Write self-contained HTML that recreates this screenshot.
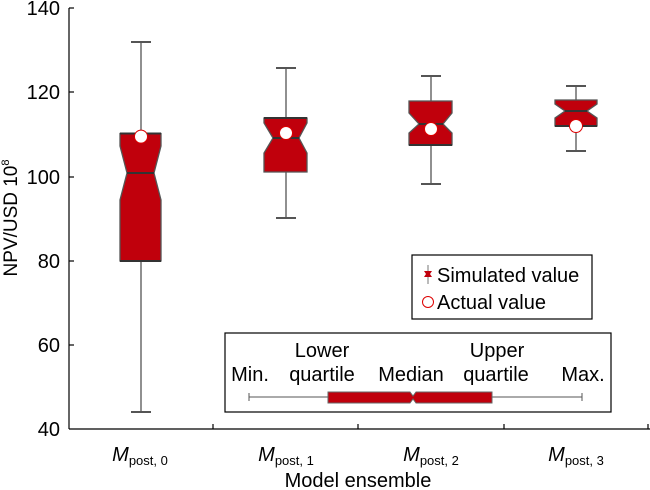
<!DOCTYPE html>
<html><head><meta charset="utf-8"><style>
body{margin:0;background:#fff}
svg{display:block;font-family:"Liberation Sans",Arial,sans-serif}
</style></head><body>
<svg width="650" height="490" viewBox="0 0 650 490">
<g stroke="#000" stroke-width="1.2" fill="none">
<line x1="69" y1="8" x2="69" y2="429"/>
<line x1="69" y1="429" x2="650" y2="429"/>
<line x1="69" y1="8" x2="74" y2="8"/>
<line x1="69" y1="92" x2="74" y2="92"/>
<line x1="69" y1="177" x2="74" y2="177"/>
<line x1="69" y1="261" x2="74" y2="261"/>
<line x1="69" y1="345" x2="74" y2="345"/>
<line x1="213" y1="424" x2="213" y2="429"/>
<line x1="358" y1="424" x2="358" y2="429"/>
<line x1="504" y1="424" x2="504" y2="429"/>
<line x1="648" y1="424" x2="648" y2="429"/>
</g>
<g font-size="20" text-anchor="end" fill="#000">
<text x="60" y="15">140</text>
<text x="60" y="99">120</text>
<text x="60" y="184">100</text>
<text x="60" y="268">80</text>
<text x="60" y="352">60</text>
<text x="60" y="436">40</text>
</g>
<text transform="translate(17,218) rotate(-90)" font-size="19" text-anchor="middle">NPV/USD 10<tspan font-size="11" dy="-8">8</tspan></text>
<g font-size="20" text-anchor="middle">
<text x="140" y="461"><tspan font-style="italic">M</tspan><tspan font-size="13" dy="4">post, 0</tspan></text>
<text x="286" y="461"><tspan font-style="italic">M</tspan><tspan font-size="13" dy="4">post, 1</tspan></text>
<text x="431" y="461"><tspan font-style="italic">M</tspan><tspan font-size="13" dy="4">post, 2</tspan></text>
<text x="576" y="461"><tspan font-style="italic">M</tspan><tspan font-size="13" dy="4">post, 3</tspan></text>
<text x="358" y="487">Model ensemble</text>
</g>
<g stroke="#555" stroke-width="1.3">
<line x1="141" y1="42" x2="141" y2="412"/>
<line x1="131" y1="42" x2="151" y2="42" stroke-width="2"/>
<line x1="131" y1="412" x2="151" y2="412" stroke-width="2"/>
<polygon points="120,133.5 161,133.5 161,146 154,173 161,200 161,261 120,261 120,200 127,173 120,146" fill="#c0000c"/>
<line x1="127" y1="173" x2="154" y2="173" stroke="#333" stroke-width="2"/>
<line x1="120" y1="133.5" x2="161" y2="133.5" stroke="#333" stroke-width="2"/>
<line x1="120" y1="261" x2="161" y2="261" stroke="#333" stroke-width="2"/>
<line x1="286" y1="68" x2="286" y2="218"/>
<line x1="276" y1="68" x2="296" y2="68" stroke-width="2"/>
<line x1="276" y1="218" x2="296" y2="218" stroke-width="2"/>
<polygon points="264,118 307,118 307,123 299,138 307,153 307,172 264,172 264,153 273,138 264,123" fill="#c0000c"/>
<line x1="273" y1="138" x2="299" y2="138" stroke="#333" stroke-width="2"/>
<line x1="264" y1="118" x2="307" y2="118" stroke="#333" stroke-width="2"/>
<line x1="431" y1="76" x2="431" y2="184"/>
<line x1="421" y1="76" x2="441" y2="76" stroke-width="2"/>
<line x1="421" y1="184" x2="441" y2="184" stroke-width="2"/>
<polygon points="409,101 452,101 452,113 443,124 452,133 452,145 409,145 409,133 419,124 409,113" fill="#c0000c"/>
<line x1="419" y1="124" x2="443" y2="124" stroke="#333" stroke-width="2"/>
<line x1="409" y1="145" x2="452" y2="145" stroke="#333" stroke-width="2"/>
<line x1="576" y1="86" x2="576" y2="151"/>
<line x1="566" y1="86" x2="586" y2="86" stroke-width="2"/>
<line x1="566" y1="151" x2="586" y2="151" stroke-width="2"/>
<polygon points="555,100 597,100 597,104 587,111 597,118 597,126 555,126 555,118 565,111 555,104" fill="#c0000c"/>
<line x1="565" y1="111" x2="587" y2="111" stroke="#333" stroke-width="2"/>
<line x1="555" y1="126" x2="597" y2="126" stroke="#333" stroke-width="2"/>
</g>
<g fill="#fff" stroke="#d00" stroke-width="1">
<circle cx="141" cy="136.6" r="6.5"/>
<circle cx="286" cy="133" r="6.5"/>
<circle cx="431" cy="129" r="6.5"/>
<circle cx="576" cy="126" r="6.5"/>
</g>
<rect x="412" y="255" width="180" height="64" fill="#fff" stroke="#000" stroke-width="1.2"/>
<line x1="428" y1="265" x2="428" y2="284" stroke="#777"/>
<polygon points="424,271 432,271 430,274 432,277 424,277 426,274" fill="#c0000c"/>
<text x="437" y="282" font-size="20">Simulated value</text>
<circle cx="428" cy="302" r="5.5" fill="#fff" stroke="#d00"/>
<text x="437" y="309" font-size="20">Actual value</text>
<rect x="225" y="333" width="386" height="79" fill="#fff" stroke="#000" stroke-width="1.2"/>
<g font-size="20" text-anchor="middle">
<text x="322" y="357">Lower</text>
<text x="322" y="381">quartile</text>
<text x="250" y="381">Min.</text>
<text x="411" y="381">Median</text>
<text x="497" y="357">Upper</text>
<text x="496" y="381">quartile</text>
<text x="583" y="381">Max.</text>
</g>
<line x1="249" y1="397" x2="582" y2="397" stroke="#555"/>
<line x1="249" y1="393" x2="249" y2="401" stroke="#555"/>
<line x1="582" y1="393" x2="582" y2="401" stroke="#555"/>
<polygon points="328,392 410,392 413,396 416,392 492,392 492,403 416,403 413,399 410,403 328,403" fill="#c0000c" stroke="#666"/>
</svg>
</body></html>
